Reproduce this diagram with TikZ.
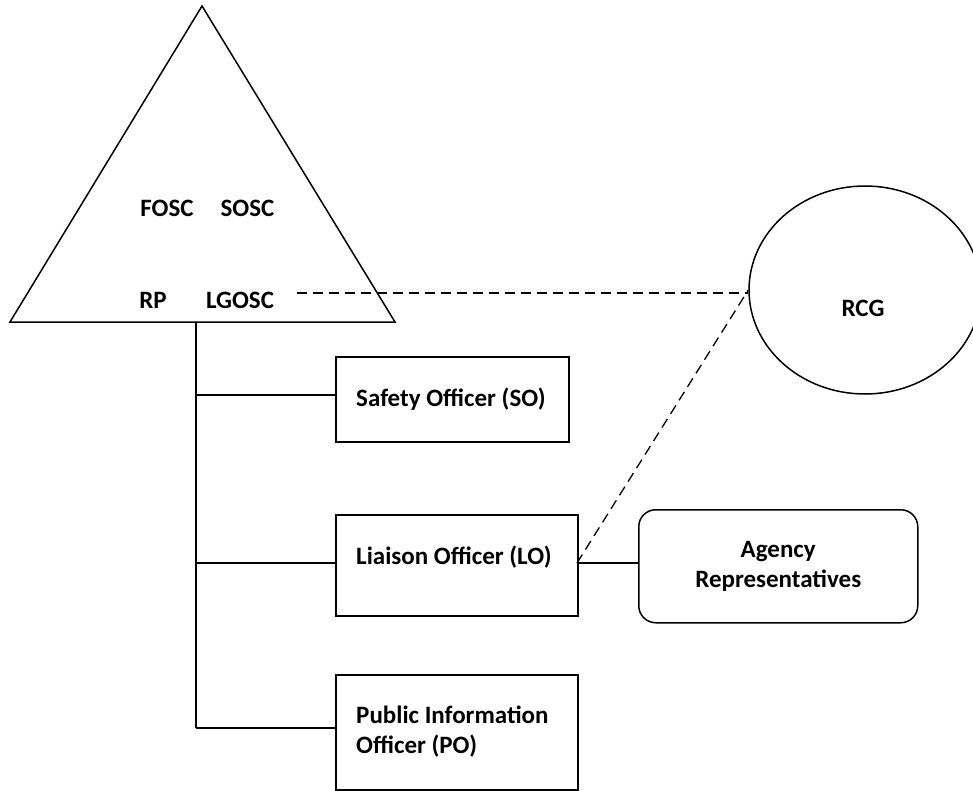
\documentclass[tikz,border=0pt]{standalone}
\usepackage{fontspec}
\setmainfont{Carlito}
\usetikzlibrary{shapes.geometric}
\begin{document}
\begin{tikzpicture}[x=1pt,y=-1pt,
  every node/.style={font=\fontsize{25}{30}\selectfont\bfseries},
  ln/.style={line width=1.5pt},
  dsh/.style={line width=1.3pt, dash pattern=on 10pt off 6pt},
  offbox/.style={draw, line width=1.5pt, rectangle, inner sep=0pt, anchor=north west},
  lbl/.style={inner sep=0pt, align=left}
]
\useasboundingbox (0,0) rectangle (973,791);
% triangle
\coordinate (tl) at (10,322);
\coordinate (ta) at (202,6);
\coordinate (tr) at (395,322);
\draw[ln, line join=miter] (tl) -- (ta) -- (tr) -- cycle;
\node[lbl] (fosc) at (167,208) {FOSC};
\node[lbl] (sosc) at (247.5,208) {SOSC};
\node[lbl] (rp) at (153,300) {RP};
\node[lbl] (lgosc) at (240,300) {LGOSC};
% RCG ellipse
\node[draw, ellipse, line width=1.5pt, minimum width=232pt, minimum height=208pt, inner sep=0pt] (rcg) at (865,290) {};
\node[lbl] (rcgtext) at (863,308) {RCG};
% boxes
\node[offbox, minimum width=233pt, minimum height=85pt] (so) at (335,356) {};
\node[lbl, anchor=west] (sotext) at (356,399) {Safety Officer (SO)};
\node[offbox, minimum width=242pt, minimum height=101pt] (lo) at (335,514) {};
\node[lbl, anchor=west] (lotext) at (356,557) {Liaison Officer (LO)};
\node[offbox, minimum width=242pt, minimum height=115pt] (po) at (335,674) {};
\node[lbl, anchor=west] (potext) at (356,732) {Public Information\\Officer (PO)};
\node[draw, line width=1.5pt, rounded corners=17pt, minimum width=279pt, minimum height=113pt, align=center, inner sep=0pt, anchor=north west] (ag) at (638,509) {Agency\\Representatives};
% trunk
\coordinate (trtop) at (196,322);
\coordinate (t1) at (196,395);
\coordinate (t2) at (196,563);
\coordinate (t3) at (196,728);
\draw[line width=2.2pt] (trtop) -- (196,457);
\draw[ln] (trtop) -- (t3);
\draw[ln] (t1) -- (t1 -| so.west);
\draw[ln] (t2) -- (t2 -| lo.west);
\draw[ln] (t3) -- (t3 -| po.west);
\coordinate (lor) at (577,563);
\draw[ln] (lor) -- (lor -| ag.west);
% dashed links
\coordinate (dstart) at (297,293);
\draw[dsh] (dstart) -- (dstart -| rcg.west);
\draw[dsh] (lor) -- (rcg.west);
\end{tikzpicture}
\end{document}
